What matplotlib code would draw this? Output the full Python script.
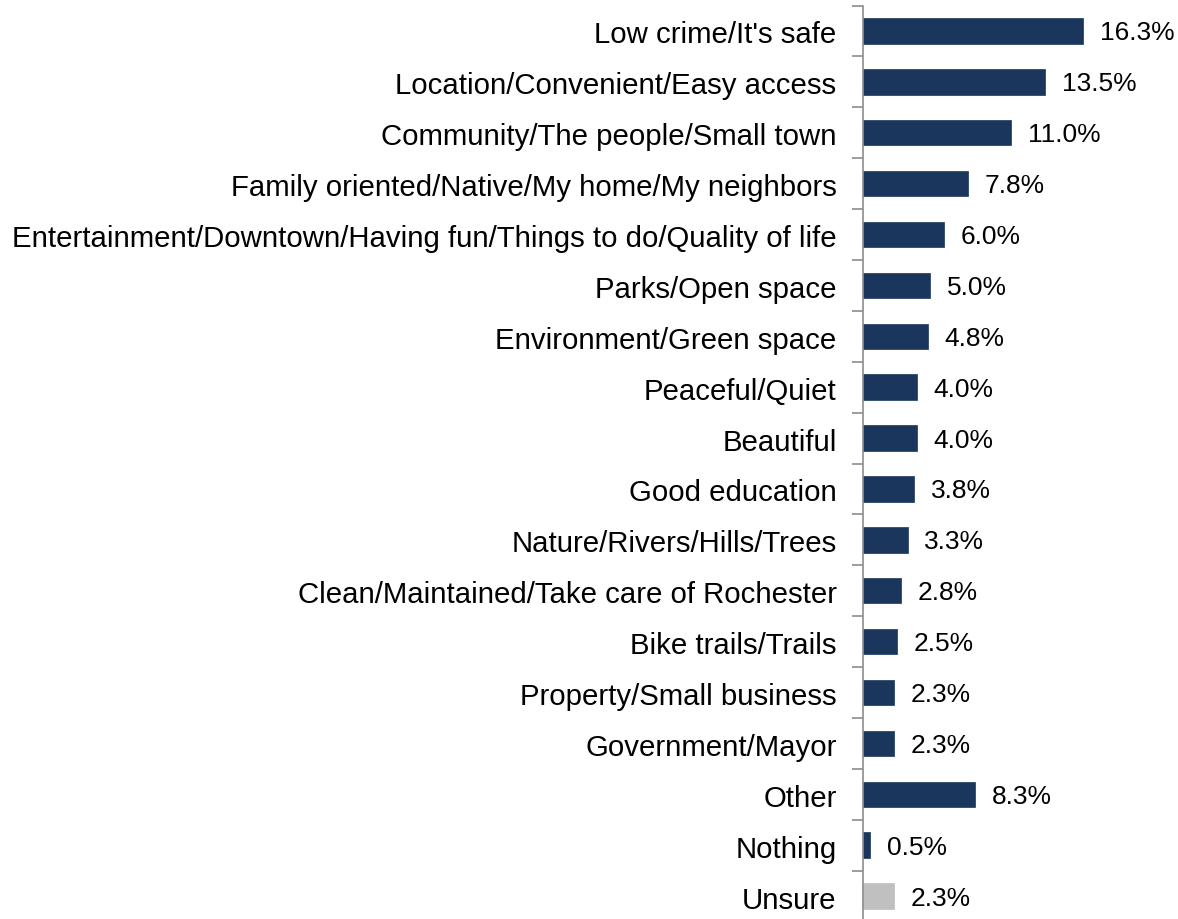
import numpy as np
import matplotlib.pyplot as plt

plt.rcParams["font.family"] = ["Liberation Sans", "DejaVu Sans"]

categories = [
    "Low crime/It's safe",
    "Location/Convenient/Easy access",
    "Community/The people/Small town",
    "Family oriented/Native/My home/My neighbors",
    "Entertainment/Downtown/Having fun/Things to do/Quality of life",
    "Parks/Open space",
    "Environment/Green space",
    "Peaceful/Quiet",
    "Beautiful",
    "Good education",
    "Nature/Rivers/Hills/Trees",
    "Clean/Maintained/Take care of Rochester",
    "Bike trails/Trails",
    "Property/Small business",
    "Government/Mayor",
    "Other",
    "Nothing",
    "Unsure",
]
values = [16.3, 13.5, 11.0, 7.8, 6.0, 5.0, 4.8, 4.0, 4.0, 3.8, 3.3, 2.8, 2.5, 2.3, 2.3, 8.3, 0.5, 2.3]

navy = "#1b365d"
gray = "#c0c0c0"
colors = [navy] * (len(values) - 1) + [gray]

W, H = 1178, 920
fig = plt.figure(figsize=(W / 100, H / 100), dpi=100)
ax_left = 863 / W
ax_top = 1 - 6.5 / H
ax_bottom = -2.5 / H
ax = fig.add_axes([ax_left, ax_bottom, 1 - ax_left, ax_top - ax_bottom])

y = np.arange(len(categories))
ax.barh(y, values, height=0.5, color=colors, edgecolor=colors, linewidth=0.5)
ax.set_ylim(len(categories) - 0.5, -0.5)
ax.set_xlim(0, (W - 864) / 13.45)

for yi, v in zip(y, values):
    ax.text(v + 1.25, yi + 0.03, f"{v:.1f}%", va="center", ha="left", fontsize=19)

ax.set_yticks(y + 0.01)
ax.set_yticklabels(categories, fontsize=21.2)
ax.set_yticks(np.arange(len(categories) + 1) - 0.5, minor=True)
ax.tick_params(axis="y", which="major", length=0, pad=19)
ax.tick_params(axis="y", which="minor", length=8, color="#8c8c8c", width=1.2)
ax.set_xticks([])
for s in ["top", "right", "bottom"]:
    ax.spines[s].set_visible(False)
ax.spines["left"].set_color("#8c8c8c")
ax.spines["left"].set_linewidth(1.2)

fig.savefig("out.png", dpi=100)
